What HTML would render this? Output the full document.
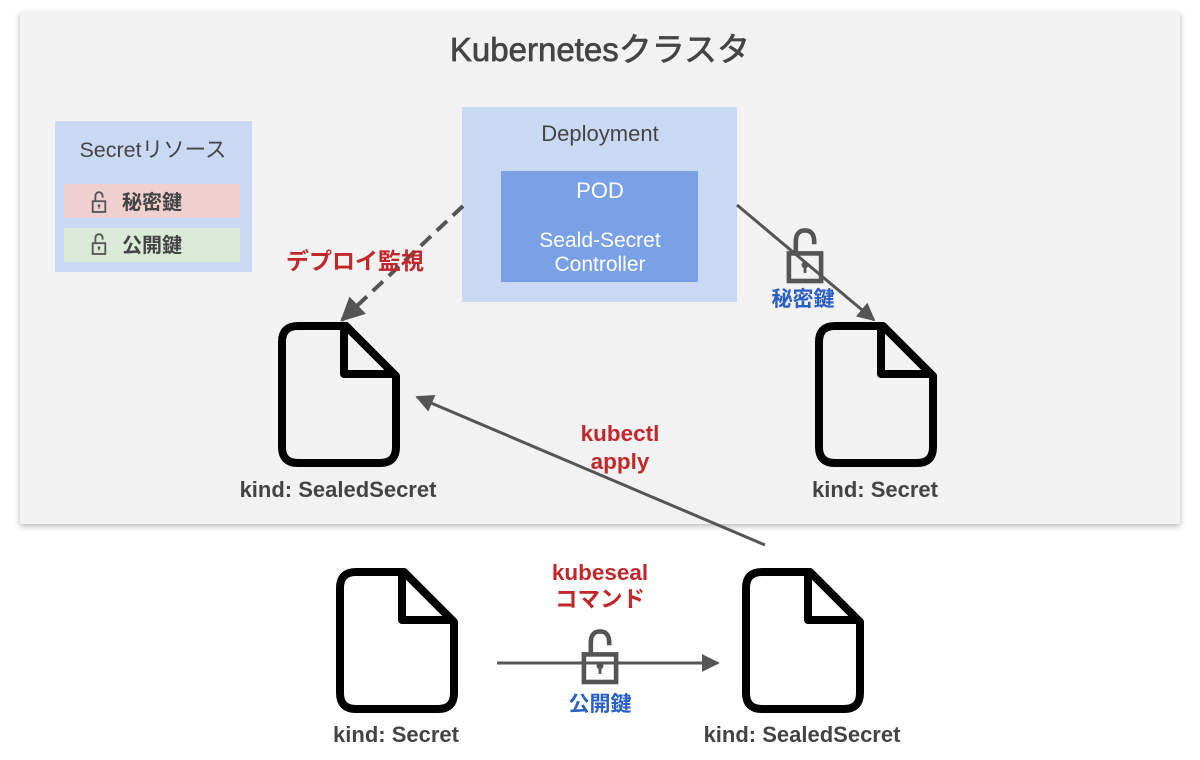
<!DOCTYPE html>
<html><head><meta charset="utf-8"><style>
body{margin:0;width:1200px;height:755px;background:#fff;overflow:hidden}
svg text{font-family:"Liberation Sans","Noto Sans CJK JP",sans-serif}
</style></head><body>
<svg width="1200" height="755" viewBox="0 0 1200 755" xmlns="http://www.w3.org/2000/svg">
<defs>
<filter id="sh" x="-5%" y="-5%" width="110%" height="110%"><feDropShadow dx="0" dy="2" stdDeviation="3" flood-color="#000" flood-opacity="0.3"/></filter>
<g id="doc"><path d="M20,4 H68 L118,54 V125 Q118,141 102,141 H20 Q4,141 4,125 V20 Q4,4 20,4 Z M66,4 V52 H118" fill="none" stroke="#000" stroke-width="8" stroke-linejoin="round"/></g>
<g id="lock"><path d="M-8,-4 V-14 Q-8,-24 0,-24 Q8,-24 8,-14 V-12" fill="none" stroke="#555" stroke-width="4"/><rect x="-14" y="-4" width="28" height="24" fill="none" stroke="#555" stroke-width="4"/><circle cx="0" cy="6" r="3" fill="#555"/><rect x="-1.2" y="6" width="2.4" height="7" fill="#555"/></g>
<marker id="ar" viewBox="0 0 10 10" refX="9" refY="5" markerWidth="6" markerHeight="6" orient="auto"><path d="M0,0 L10,5 L0,10 Z" fill="#555"/></marker>
</defs>
<rect x="20" y="12" width="1160" height="512" fill="#f2f2f2" filter="url(#sh)"/>
<text x="600" y="61" font-size="33" fill="#444" stroke="#444" stroke-width="0.7" text-anchor="middle">Kubernetesクラスタ</text>
<rect x="55" y="121" width="197" height="151" fill="#c9d9f4"/>
<text x="153" y="157" font-size="21.5" fill="#444" text-anchor="middle">Secretリソース</text>
<rect x="64" y="184" width="176" height="34" fill="#efcfcf"/>
<rect x="64" y="228" width="176" height="34" fill="#d9ead6"/>
<g transform="translate(99,203) scale(0.45)"><use href="#lock"/></g>
<g transform="translate(99,245) scale(0.45)"><use href="#lock"/></g>
<text x="122" y="209" font-size="20" fill="#444" font-weight="bold">秘密鍵</text>
<text x="122" y="252" font-size="20" fill="#444" font-weight="bold">公開鍵</text>
<rect x="462" y="107" width="275" height="195" fill="#c9d9f4"/>
<text x="600" y="141" font-size="22" fill="#444" text-anchor="middle">Deployment</text>
<rect x="501" y="171" width="197" height="111" fill="#7aa0e6"/>
<text x="600" y="198" font-size="22" fill="#fff" text-anchor="middle">POD</text>
<text x="600" y="247" font-size="21" fill="#fff" text-anchor="middle">Seald-Secret</text>
<text x="600" y="271" font-size="21" fill="#fff" text-anchor="middle">Controller</text>
<line x1="463" y1="206" x2="342" y2="320" stroke="#555" stroke-width="4" stroke-dasharray="14,8" marker-end="url(#ar)"/>
<text x="355" y="269" font-size="23" fill="#c0282b" text-anchor="middle" font-weight="bold">デプロイ監視</text>
<line x1="737" y1="205" x2="874" y2="320" stroke="#555" stroke-width="3" marker-end="url(#ar)"/>
<g transform="translate(805,258) scale(1.15)"><use href="#lock"/></g>
<text x="803" y="306" font-size="21" fill="#2b5fc4" text-anchor="middle" font-weight="bold">秘密鍵</text>
<use href="#doc" transform="translate(278,322)"/>
<use href="#doc" transform="translate(815,322)"/>
<text x="338" y="497" font-size="22" fill="#444" text-anchor="middle" font-weight="bold">kind: SealedSecret</text>
<text x="875" y="497" font-size="22" fill="#444" text-anchor="middle" font-weight="bold">kind: Secret</text>
<line x1="765" y1="545" x2="417" y2="397" stroke="#555" stroke-width="3" marker-end="url(#ar)"/>
<text x="620" y="441" font-size="22.5" fill="#c0282b" text-anchor="middle" font-weight="bold">kubectl</text>
<text x="620" y="469" font-size="22.5" fill="#c0282b" text-anchor="middle" font-weight="bold">apply</text>
<use href="#doc" transform="translate(336,568)"/>
<use href="#doc" transform="translate(742,568)"/>
<text x="396" y="742" font-size="22" fill="#444" text-anchor="middle" font-weight="bold">kind: Secret</text>
<text x="802" y="742" font-size="22" fill="#444" text-anchor="middle" font-weight="bold">kind: SealedSecret</text>
<line x1="497" y1="663" x2="718" y2="663" stroke="#555" stroke-width="3" marker-end="url(#ar)"/>
<g transform="translate(600,659) scale(1.15)"><use href="#lock"/></g>
<text x="600" y="580" font-size="22.5" fill="#c0282b" text-anchor="middle" font-weight="bold">kubeseal</text>
<text x="600" y="607" font-size="22.5" fill="#c0282b" text-anchor="middle" font-weight="bold">コマンド</text>
<text x="600" y="711" font-size="21" fill="#2b5fc4" text-anchor="middle" font-weight="bold">公開鍵</text>
</svg>
</body></html>
